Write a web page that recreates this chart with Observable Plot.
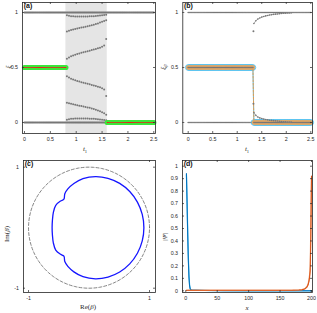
<!DOCTYPE html>
<html><head><meta charset="utf-8">
<script src="https://cdn.jsdelivr.net/npm/d3@7"></script>
<script src="https://cdn.jsdelivr.net/npm/@observablehq/plot@0.6"></script>
<style>
body{margin:0;background:#fff;}
#wrap{position:relative;width:317px;height:313px;overflow:hidden;background:#fff}
.p{position:absolute}
.lab{position:absolute;font-family:"Liberation Serif",serif;font-size:7px;color:#262626;white-space:nowrap;transform:translate(-50%,-50%);line-height:1}
.rot{transform:translate(-50%,-50%) rotate(-90deg)}
</style></head><body><div id="wrap"></div>
<script>
// ---------- data ----------
const tTicks = [0, 0.5, 1, 1.5, 2, 2.5];
const xiTicks = [0, 0.5, 1];
const shadeRange = [0.8, 1.6];
const flatLevels = [0, 1];
const tFine = d3.range(0, 2.5 + 1e-9, 0.02).map(v => +v.toFixed(2));

// panel (a): branches inside the shaded region
const tBranchA = [0.82,0.86,0.90,0.94,0.98,1.02,1.06,1.10,1.14,1.18,1.22,1.26,1.30,1.34,1.38,1.42,1.46,1.50,1.54,1.58];
const brA1 = [0.975,0.970,0.967,0.965,0.964,0.963,0.963,0.963,0.963,0.964,0.964,0.965,0.966,0.967,0.968,0.970,0.972,0.974,0.977,0.980];
const brA2 = [0.827,0.833,0.840,0.845,0.850,0.855,0.859,0.863,0.867,0.871,0.875,0.879,0.884,0.889,0.895,0.901,0.908,0.915,0.922,0.930];
const brA3 = [0.579,0.592,0.602,0.610,0.617,0.623,0.628,0.633,0.638,0.643,0.648,0.653,0.658,0.663,0.668,0.674,0.680,0.688,0.700,0.760];
const brA4 = [0.421,0.408,0.398,0.390,0.383,0.377,0.372,0.367,0.362,0.357,0.352,0.347,0.342,0.337,0.332,0.326,0.320,0.312,0.300,0.240];
const brA5 = [0.180,0.175,0.170,0.165,0.161,0.157,0.153,0.149,0.145,0.141,0.137,0.133,0.128,0.123,0.117,0.110,0.102,0.093,0.083,0.070];
const brA6 = [0.025,0.030,0.033,0.035,0.036,0.037,0.037,0.037,0.037,0.036,0.036,0.035,0.034,0.033,0.032,0.030,0.028,0.026,0.023,0.020];
const greenA = [{from: 0, to: 0.8, level: 0.5}, {from: 1.6, to: 2.5, level: 0}];

// panel (b)
const bJumpT = 1.33;
const bHighT = 1.32;   // last t at 0.5
const bLowT = 1.34;    // first t at 0
const tBranchB = [1.34,1.38,1.42,1.46,1.50,1.54,1.58,1.62,1.66,1.70,1.74,1.78,1.82,1.86,1.90,1.94,1.98,2.02,2.06,2.10];
const brBup = [0.900,0.925,0.940,0.950,0.958,0.964,0.969,0.973,0.977,0.980,0.983,0.985,0.987,0.989,0.991,0.993,0.994,0.995,0.996,0.997];
const brBlo = [0.090,0.065,0.050,0.042,0.036,0.031,0.027,0.024,0.021,0.019,0.017,0.015,0.013,0.011,0.009,0.007,0.006,0.005,0.004,0.003];
const jumpDots = [0.83, 0.17];

// panel (c): GBZ curve (clockwise from the top)
const reBeta = [0.107,0.314,0.507,0.673,0.800,0.880,0.907,0.880,0.800,0.673,0.507,0.314,0.107,-0.100,-0.250,-0.350,-0.400,-0.415,-0.470,-0.550,-0.590,-0.605,-0.610,-0.605,-0.590,-0.550,-0.470,-0.415,-0.400,-0.350,-0.250,-0.100];
const imBeta = [0.845,0.816,0.732,0.598,0.423,0.219,0.000,-0.219,-0.423,-0.598,-0.732,-0.816,-0.845,-0.810,-0.730,-0.640,-0.560,-0.470,-0.440,-0.370,-0.250,-0.120,0.000,0.120,0.250,0.370,0.440,0.470,0.560,0.640,0.730,0.810];
const cTicks = [-1, 1];

// panel (d): edge states
const xTicksD = [0, 50, 100, 150, 200];
const yTicksD = [0,0.1,0.2,0.3,0.4,0.5,0.6,0.7,0.8,0.9,1];
const xBlue = [1,2,3,4,5,6,7,8,10,15,20,30,40,60,100,150,200];
const vBlue = [0.94,0.70,0.45,0.25,0.11,0.04,0.015,0.008,0.006,0.005,0.004,0.003,0.002,0.001,0.0,0.0,0.0];
const vBlueLight = [0.93,0.74,0.50,0.29,0.13,0.05,0.018,0.009,0.006,0.005,0.004,0.003,0.002,0.001,0.0,0.0,0.0];
const xOrange = [1,50,100,150,170,180,185,188,190,192,193,194,195,196,197,198,199,200];
const vOrange = [0.004,0.004,0.004,0.004,0.005,0.006,0.008,0.012,0.017,0.025,0.032,0.040,0.055,0.075,0.110,0.160,0.450,0.920];
const vOrangeLight = [0.004,0.004,0.004,0.004,0.005,0.007,0.010,0.015,0.021,0.030,0.038,0.048,0.065,0.090,0.130,0.200,0.550,0.900];

// ---------- helpers ----------
const FG = "#262626";
const GRAY = "#777";
function boxTicks(xt, yt, iw, ih, len = 2) {
  return [
    Plot.tickX(xt, {x: d => d, stroke: FG, strokeWidth: 0.7, insetTop: ih - len}),
    Plot.tickX(xt, {x: d => d, stroke: FG, strokeWidth: 0.7, insetBottom: ih - len}),
    Plot.tickY(yt, {y: d => d, stroke: FG, strokeWidth: 0.7, insetRight: iw - len}),
    Plot.tickY(yt, {y: d => d, stroke: FG, strokeWidth: 0.7, insetLeft: iw - len}),
    Plot.frame({stroke: FG, strokeWidth: 0.8}),
    Plot.axisX(xt, {tickSize: 0, tickPadding: 4, fontSize: 5.3, fill: FG, label: null, tickFormat: d => String(d)}),
    Plot.axisY(yt, {tickSize: 0, tickPadding: 4.5, fontSize: 5.3, fill: FG, label: null, tickFormat: d => String(d)})
  ];
}
function panel(o) {
  const iw = o.width - o.ml - o.mr, ih = o.height - o.mt - o.mb;
  const svg = Plot.plot({
    width: o.width, height: o.height,
    marginLeft: o.ml, marginRight: o.mr, marginTop: o.mt, marginBottom: o.mb,
    x: {domain: o.xd, axis: null}, y: {domain: o.yd, axis: null},
    style: {fontFamily: "Liberation Sans, Arial, sans-serif", fontSize: "5px", background: "transparent", overflow: "visible"},
    marks: [
      ...o.marks,
      ...boxTicks(o.xt, o.yt, iw, ih),
      Plot.text([o.letter], {frameAnchor: "top-left", dx: 1.2, dy: 0.8, textAnchor: "start", lineAnchor: "top", fontWeight: "bold", fontSize: 7, fill: "#111"})
    ]
  });
  svg.classList.add("p");
  svg.style.left = o.left + "px";
  svg.style.top = o.top + "px";
  document.getElementById("wrap").appendChild(svg);
}
function label(html, x, y, rot) {
  const d = document.createElement("div");
  d.className = "lab" + (rot ? " rot" : "");
  d.style.left = x + "px"; d.style.top = y + "px";
  d.innerHTML = html;
  document.getElementById("wrap").appendChild(d);
}

// ---------- panel (a) ----------
const flatA = tFine.flatMap(t => flatLevels.map(v => ({t, v})));
const halfA = tFine.filter(t => t <= shadeRange[0]).map(t => ({t, v: 0.5}));
const branchesA = [brA1, brA2, brA3, brA4, brA5, brA6].flatMap(b => b.map((v, i) => ({t: tBranchA[i], v})));
const greenPts = greenA.flatMap(g => tFine.filter(t => t >= g.from - 1e-9 && t <= g.to + 1e-9).map(t => ({t, v: g.level, g: g.from})));
panel({
  left: 0, top: 0, width: 158, height: 155, ml: 22, mr: 3, mt: 2, mb: 22,
  xd: [-0.0387, 2.533], yd: [-0.1, 1.0909], xt: tTicks, yt: xiTicks, letter: "(a)",
  marks: [
    Plot.rect([shadeRange], {x1: d => d[0], x2: d => d[1], fill: "#e5e5e5"}),
    Plot.dot(flatA, {x: "t", y: "v", r: 1, fill: GRAY}),
    Plot.dot(halfA, {x: "t", y: "v", r: 1, fill: GRAY}),
    Plot.dot(branchesA, {x: "t", y: "v", r: 1, fill: GRAY}),
    Plot.dot(greenPts, {x: "t", y: "v", r: 2.6, fill: "#3be63b"}),
    Plot.line(greenPts, {x: "t", y: "v", z: "g", stroke: "#e8201a", strokeWidth: 1})
  ]
});
label("<i>ξ</i>", 8, 67, true);
label("<i>t</i><sub style='font-size:4.5px'>1</sub>", 85, 150);

// ---------- panel (b) ----------
const flatB = tFine.flatMap(t => flatLevels.map(v => ({t, v})));
const stateB = tFine.map(t => ({t, v: t <= bHighT + 1e-9 ? 0.5 : 0})).filter(d => d.t <= bHighT + 1e-9 || d.t >= bLowT - 1e-9);
const upB = brBup.map((v, i) => ({t: tBranchB[i], v}));
const loB = brBlo.map((v, i) => ({t: tBranchB[i], v}));
const jumpB = jumpDots.map(v => ({t: bJumpT, v}));
panel({
  left: 158, top: 0, width: 159, height: 155, ml: 24.3, mr: 5, mt: 2, mb: 22,
  xd: [-0.110, 2.535], yd: [-0.1, 1.0909], xt: tTicks, yt: xiTicks, letter: "(b)",
  marks: [
    Plot.dot(flatB, {x: "t", y: "v", r: 0.8, fill: GRAY}),
    Plot.line(stateB, {x: "t", y: "v", stroke: "#4DBEEE", strokeWidth: 1}),
    Plot.dot(stateB, {x: "t", y: "v", r: 2.8, stroke: "#4DBEEE", strokeWidth: 0.9, fill: "none"}),
    Plot.dot(stateB, {x: "t", y: "v", r: 2.2, fill: "#e3a766"}),
    Plot.line(stateB, {x: "t", y: "v", stroke: "#e69b4a", strokeWidth: 1, strokeDasharray: "2,1.5"}),
    Plot.dot(stateB, {x: "t", y: "v", r: 0.8, fill: GRAY}),
    Plot.line(upB, {x: "t", y: "v", stroke: "#999", strokeWidth: 0.8}),
    Plot.line(loB, {x: "t", y: "v", stroke: "#999", strokeWidth: 0.8}),
    Plot.dot(upB, {x: "t", y: "v", r: 0.8, fill: GRAY}),
    Plot.dot(loB, {x: "t", y: "v", r: 0.8, fill: GRAY}),
    Plot.dot(jumpB, {x: "t", y: "v", r: 1, fill: GRAY})
  ]
});
label("<i>ξ</i><sub style='font-size:4.5px'><i>β</i></sub>", 164, 67, true);
label("<i>t</i><sub style='font-size:4.5px'>1</sub>", 247, 150);

// ---------- panel (c) ----------
const gbz = reBeta.map((re, i) => ({re, im: imBeta[i]}));
const unitAngles = d3.range(0, 361, 2);
const unitCircle = unitAngles.map(a => ({re: Math.cos(a * Math.PI / 180), im: Math.sin(a * Math.PI / 180)}));
panel({
  left: 0, top: 155, width: 158, height: 158, ml: 23, mr: 3, mt: 5, mb: 21,
  xd: [-1.083, 1.099], yd: [-1.071, 1.11], xt: cTicks, yt: cTicks, letter: "(c)",
  marks: [
    Plot.line(unitCircle, {x: "re", y: "im", stroke: "#666", strokeWidth: 0.8, strokeDasharray: "3,2"}),
    Plot.line(gbz, {x: "re", y: "im", stroke: "#1515ff", strokeWidth: 1.3, curve: "catmull-rom-closed"})
  ]
});
label("Im(<i>β</i>)", 7, 234, true);
label("Re(<i>β</i>)", 88, 307);

// ---------- panel (d) ----------
const blue = xBlue.map((x, i) => ({x, v: vBlue[i]}));
const blueL = xBlue.map((x, i) => ({x, v: vBlueLight[i]}));
const orng = xOrange.map((x, i) => ({x, v: vOrange[i]}));
const orngL = xOrange.map((x, i) => ({x, v: vOrangeLight[i]}));
panel({
  left: 158, top: 155, width: 159, height: 158, ml: 24, mr: 5, mt: 5, mb: 21,
  xd: [-5.25, 201.6], yd: [-0.0136, 1.0457], xt: xTicksD, yt: yTicksD, letter: "(d)",
  marks: [
    Plot.line(blueL, {x: "x", y: "v", stroke: "#4DBEEE", strokeWidth: 1.2}),
    Plot.line(blue, {x: "x", y: "v", stroke: "#0072BD", strokeWidth: 1.1}),
    Plot.line(orngL, {x: "x", y: "v", stroke: "#F0A070", strokeWidth: 1.2}),
    Plot.line(orng, {x: "x", y: "v", stroke: "#D95319", strokeWidth: 1.1})
  ]
});
label("|<i>Ψ</i>|", 165, 237, true);
label("<i>x</i>", 247, 308);
</script></body></html>
